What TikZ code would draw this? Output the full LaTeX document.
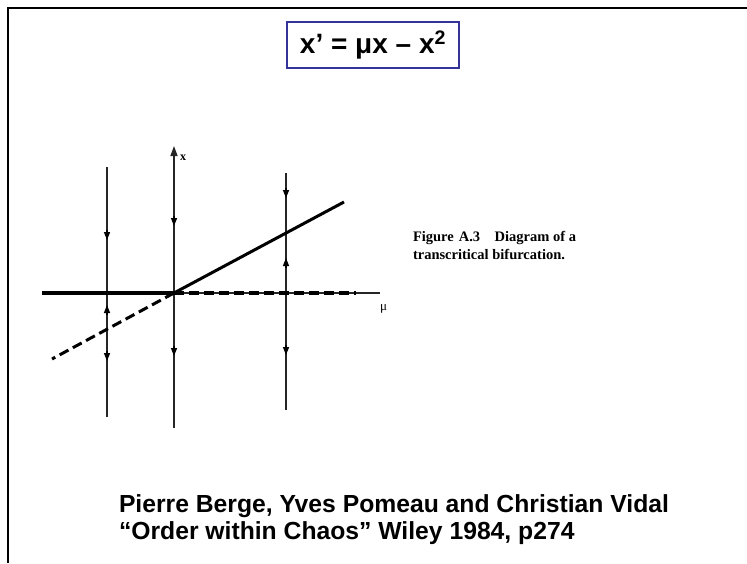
\documentclass[tikz,border=0pt]{standalone}
\usepackage{fontspec}
\setmainfont{Liberation Sans}
\newfontfamily\capfont{Liberation Serif}
\usetikzlibrary{arrows.meta}
\definecolor{boxblue}{HTML}{333399}
\tikzset{
  frameline/.style={line width=2.4pt, black},
  vline/.style={line width=1.4pt, black!85},
  thickline/.style={line width=3.4pt, black},
  dashline/.style={line width=3.4pt, black, dash pattern=on 10pt off 5pt},
  flow/.style={-{Triangle[length=8pt,width=6pt]}, line width=1.4pt, black},
  txt/.style={anchor=base west, inner sep=0pt, outer sep=0pt},
}
\begin{document}
\begin{tikzpicture}[x=1pt,y=-1pt]
\useasboundingbox (0,0) rectangle (747,563);
\fill[white] (0,0) rectangle (747,563);
% frame
\coordinate (fTL) at (8,8);
\coordinate (fTR) at (747,8);
\coordinate (fBL) at (8,563);
\draw[frameline] (fTR) -- (fTL) -- (fBL);
% equation box
\node[draw=boxblue, line width=2.2pt, fill=white, minimum width=172pt, minimum height=46pt, inner sep=0pt] (eq) at (373,45)
  {\fontsize{28}{32}\selectfont\bfseries x’ = μx – x\textsuperscript{2}};
% plot coordinates
\coordinate (O) at (174,293);
\coordinate (hL) at (42,293);
\coordinate (hD) at (356,293);
\coordinate (hE) at (380,293);
\coordinate (vT) at (174,146);
\coordinate (vB) at (174,428);
\coordinate (lT) at (107,167);
\coordinate (lB) at (107,417);
\coordinate (rT) at (286,173);
\coordinate (rB) at (286,410);
\coordinate (sE) at (344,202);
\coordinate (dE) at (52,359);
% thin lines
\draw[vline] (O) -- (hE);
\draw[vline] (lT) -- (lB);
\draw[vline] (rT) -- (rB);
\draw[-{Triangle[length=10pt,width=7pt]}, line width=1.4pt, black!85] (vB) -- (vT);
% branches
\draw[thickline] (hL) -- (O);
\draw[dashline] (O) -- (hD);
\draw[thickline, line width=3pt] (O) -- (sE);
\draw[dashline, line width=3pt] (O) -- (dE);
% flow arrows
\draw[flow] (107,230) -- (107,240);
\draw[flow] (107,315) -- (107,305);
\draw[flow] (107,351) -- (107,361);
\draw[flow] (174,216) -- (174,226);
\draw[flow] (174,346) -- (174,356);
\draw[flow] (286,188) -- (286,198);
\draw[flow] (286,268) -- (286,258);
\draw[flow] (286,345) -- (286,355);
% axis labels
\node[txt] (xl) at (180,160) {\capfont\fontsize{12}{14}\selectfont\bfseries x};
\node[txt] (mul) at (380,310) {\capfont\fontsize{13}{14}\selectfont μ};
% caption
\node[txt] (cap1) at (413,241) {\capfont\fontsize{14.5}{17}\selectfont\bfseries Figure\hspace{0.35em}A.3\hspace{1.0em}Diagram of a};
\node[txt] (cap2) at (413,259) {\capfont\fontsize{14.5}{17}\selectfont\bfseries transcritical bifurcation.};
% citation
\node[txt] (c1) at (119,512) {\fontsize{24.7}{28}\selectfont\bfseries Pierre Berge, Yves Pomeau and Christian Vidal};
\node[txt] (c2) at (119,539) {\fontsize{24.7}{28}\selectfont\bfseries “Order within Chaos” Wiley 1984, p274};
\end{tikzpicture}
\end{document}
